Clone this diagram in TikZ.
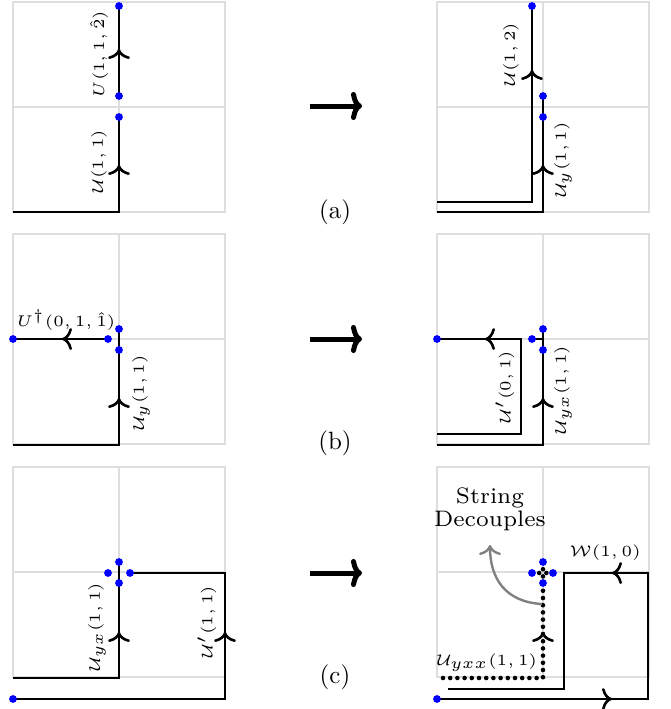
\documentclass[tikz,border=0pt]{standalone}
\usetikzlibrary{arrows.meta}
\newcommand\pgrid[2]{\draw[gridl] (#1,#2) rectangle ++(212,210) (#1+106,#2) -- ++(0,210) (#1,#2+105) -- ++(212,0);}
\newcommand\bdot[2]{\fill[blue] (#1,#2) circle[radius=1.95pt];}
\newcommand\tipup[2]{\draw[tipl] (#1,#2+3) -- (#1,#2);}
\newcommand\tipleft[2]{\draw[tipl] (#1+3,#2) -- (#1,#2);}
\newcommand\tipright[2]{\draw[tipl] (#1-3,#2) -- (#1,#2);}
\begin{document}
\begin{tikzpicture}[x=0.5pt,y=-0.5pt,
 gridl/.style={draw=black!13, line width=1.1pt},
 wline/.style={draw=black, line width=1.45pt},
 dline/.style={draw=black, line width=2.3pt, line cap=round, dash pattern=on 0pt off 3.6pt},
 tipl/.style={draw=black, line width=1.3pt, -{Computer Modern Rightarrow[length=5pt,width=11pt]}},
 lab/.style={font=\tiny, scale=1.55, inner sep=0pt},
 txt/.style={font=\scriptsize, scale=1.6, inner sep=0pt},
 bigarr/.style={line width=2.5pt, -{Computer Modern Rightarrow[length=5.5pt,width=14pt]}},
 captxt/.style={font=\normalsize, scale=1.25, inner sep=0pt}]
\useasboundingbox (0,0) rectangle (671,709);
% grids
\pgrid{13}{2}\pgrid{437}{2}
\pgrid{13}{234}\pgrid{437}{234}
\pgrid{13}{467}\pgrid{437}{467}
% middle arrows and captions
\coordinate (a1) at (310,106); \coordinate (a2) at (362,106);
\coordinate (b1) at (310,339); \coordinate (b2) at (362,339);
\coordinate (c1) at (310,573); \coordinate (c2) at (362,573);
\draw[bigarr] (a1) -- (a2);
\draw[bigarr] (b1) -- (b2);
\draw[bigarr] (c1) -- (c2);
\node[captxt] (capa) at (335,212) {(a)};
\node[captxt] (capb) at (335,443) {(b)};
\node[captxt] (capc) at (335,677) {(c)};
% ---------- panel (a) left
\draw[wline] (119,6) -- (119,96);
\draw[wline] (119,117) -- (119,212) -- (13,212);
\tipup{119}{49}\tipup{119}{165}
\bdot{119}{6}\bdot{119}{96}\bdot{119}{117}
\node[lab,rotate=90] (la1) at (99,54) {$U(1,1,\hat 2)$};
\node[lab,rotate=90] (la2) at (99,162) {$\mathcal{U}(1,1)$};
% ---------- panel (a) right
\draw[wline] (532,6) -- (532,202) -- (437,202);
\draw[wline] (543,96) -- (543,212) -- (437,212);
\tipup{532}{70}\tipup{543}{165}
\bdot{532}{6}\bdot{543}{96}\bdot{543}{117}
\node[lab,rotate=90] (ra1) at (511,55) {$\mathcal{U}(1,2)$};
\node[lab,rotate=90] (ra2) at (563,160) {$\mathcal{U}_y(1,1)$};
% ---------- panel (b) left
\draw[wline] (108,339) -- (13,339);
\draw[wline] (119,329) -- (119,445) -- (13,445);
\tipleft{62}{339}\tipup{119}{398}
\bdot{13}{339}\bdot{108}{339}\bdot{119}{329}\bdot{119}{350}
\node[lab] (lb1) at (66,320) {$U^\dagger(0,1,\hat 1)$};
\node[lab,rotate=90] (lb2) at (141,393) {$\mathcal{U}_y(1,1)$};
% ---------- panel (b) right
\draw[wline] (437,339) -- (521,339) -- (521,434) -- (437,434);
\draw[wline] (532,339) -- (543,339);
\draw[wline] (543,329) -- (543,445) -- (437,445);
\tipleft{485}{339}\tipup{543}{398}
\bdot{437}{339}\bdot{532}{339}\bdot{543}{329}\bdot{543}{350}
\node[lab,rotate=90] (rb1) at (505,387) {$\mathcal{U}'(0,1)$};
\node[lab,rotate=90] (rb2) at (563,390) {$\mathcal{U}_{yx}(1,1)$};
% ---------- panel (c) left
\draw[wline] (119,562) -- (119,678) -- (13,678);
\draw[wline] (130,573) -- (225,573) -- (225,699) -- (13,699);
\tipup{119}{632}\tipup{225}{632}
\bdot{119}{562}\bdot{108}{573}\bdot{130}{573}\bdot{119}{583}\bdot{13}{699}
\node[lab,rotate=90] (lc1) at (97,627) {$\mathcal{U}_{yx}(1,1)$};
\node[lab,rotate=90] (lc2) at (207,622) {$\mathcal{U}'(1,1)$};
% ---------- panel (c) right
\draw[dline] (543,562) -- (543,678) -- (437,678);
\draw[dline] (532,573) -- (553,573);
\draw[wline] (448,689) -- (564,689) -- (564,573) -- (648,573) -- (648,699) -- (437,699);
\tipup{543}{632}\tipleft{612}{573}\tipright{612}{699}
\bdot{543}{562}\bdot{532}{573}\bdot{553}{573}\bdot{543}{583}\bdot{437}{699}
\coordinate (gs) at (542,604);
\coordinate (ge) at (490,545);
\draw[draw=black!50, line width=1.2pt, -{Computer Modern Rightarrow[length=5pt,width=11pt]}] (gs) .. controls (505,602) and (490,578) .. (ge);
\node[txt] (s1) at (490,498) {String};
\node[txt] (s2) at (490,521) {Decouples};
\node[lab] (w10) at (605,553) {$\mathcal{W}(1,0)$};
\node[lab] (uyxx) at (487,663) {$\mathcal{U}_{yxx}(1,1)$};
\end{tikzpicture}
\end{document}
